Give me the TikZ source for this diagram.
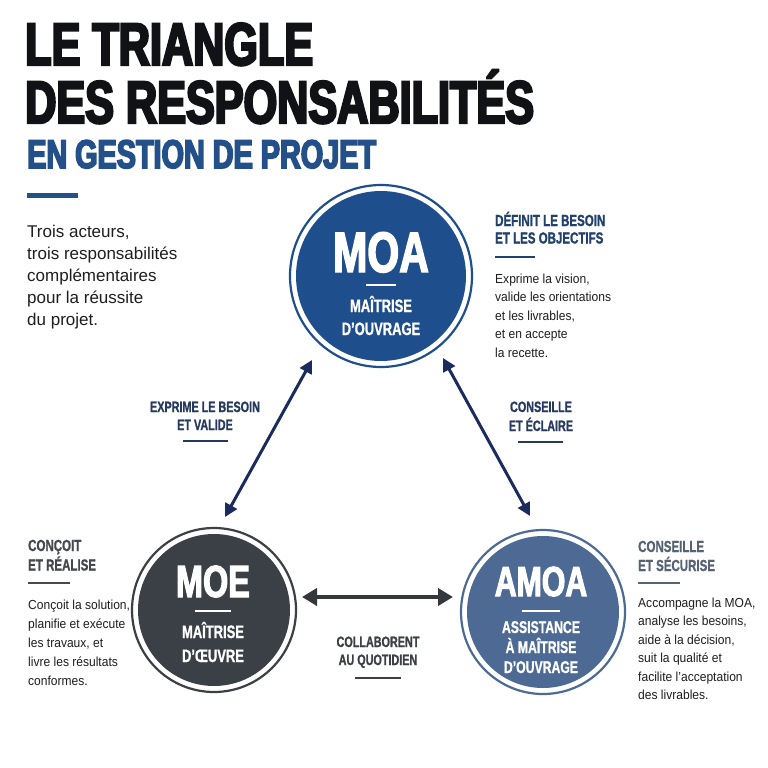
\documentclass[tikz,border=0pt]{standalone}
\usepackage{fontspec}
\setmainfont{Liberation Sans}
\newfontfamily\titlefont[FakeStretch=0.72,FakeBold=4]{Liberation Sans Bold}
\newfontfamily\namefont[FakeStretch=0.72,FakeBold=2.5]{Liberation Sans Bold}
\newfontfamily\condfont[FakeStretch=0.72,FakeBold=1.0]{Liberation Sans Bold}
\newfontfamily\bodyfont[FakeStretch=0.92]{Liberation Sans}
\usetikzlibrary{arrows.meta,calc}
\definecolor{titleblack}{HTML}{111216}
\definecolor{titleblue}{HTML}{24508A}
\definecolor{moablue}{HTML}{1F4E8C}
\definecolor{moegray}{HTML}{3B3F46}
\definecolor{amoablue}{HTML}{4C6A93}
\definecolor{navy}{HTML}{26395F}
\definecolor{defblue}{HTML}{21406E}
\definecolor{arrnavy}{HTML}{1A2B5C}
\definecolor{headgray}{HTML}{45484D}
\definecolor{headslate}{HTML}{566374}
\definecolor{colgray}{HTML}{3C3F44}
\definecolor{harrgray}{HTML}{34373C}
\definecolor{bodytext}{HTML}{1E1E1E}
\newcommand\txtblock[6]{%
  \foreach \tline [count=\i from 0] in {#6}{%
    \node[#2] (#1-\i) at (#3,{#4+\i*#5}) {\tline};
  }%
}
\tikzset{
  ttl/.style={anchor=base west, inner sep=0, text=titleblack, font=\titlefont\fontsize{60}{60}\selectfont},
  subttl/.style={anchor=base west, inner sep=0, text=titleblue, font=\titlefont\fontsize{40}{40}\selectfont},
  intro/.style={anchor=base west, inner sep=0, text=bodytext, font=\fontsize{17}{20}\selectfont},
  body/.style={anchor=base west, inner sep=0, text=bodytext, font=\bodyfont\fontsize{13.1}{15}\selectfont},
  head/.style={anchor=base west, inner sep=0, font=\condfont\fontsize{16}{18}\selectfont},
  midhead/.style={anchor=base, inner sep=0, font=\condfont\fontsize{15}{17}\selectfont},
  disc/.style={circle, inner sep=0, outer sep=0, minimum size=#1},
  bigname/.style={anchor=base, inner sep=0, text=white, font=\namefont\fontsize{#1}{#1}\selectfont},
  smallname/.style={anchor=base, inner sep=0, text=white, font=\condfont\fontsize{#1}{#1}\selectfont},
  bar/.style={line width=2pt},
  darr/.style={draw=arrnavy, line width=3pt, {Triangle[length=13pt,width=13pt]}-{Triangle[length=13pt,width=13pt]}},
  harr/.style={draw=harrgray, line width=4.5pt, {Triangle[length=15pt,width=17pt]}-{Triangle[length=15pt,width=17pt]}},
}
\begin{document}
\begin{tikzpicture}[x=1pt,y=-1pt]
\useasboundingbox[fill=white] (0,0) rectangle (768,768);

% Title
\node[ttl] (t1) at (25,65) {LE TRIANGLE};
\node[ttl] (t2) at (25,123) {DES RESPONSABILITÉS};
\node[subttl] (t3) at (27,168) {EN GESTION DE PROJET};
\draw[titleblue, line width=5pt] (27,195) -- (78,195);

% Intro
\txtblock{intro}{intro}{27}{237.5}{22}{{Trois acteurs,}, trois responsabilités, complémentaires, pour la réussite, du projet.}

% Circles
\node[disc=170pt, fill=moablue] (moa) at (381,276) {};
\draw[moablue, line width=2.2pt] (moa.center) circle[radius=91pt];
\node[disc=152pt, fill=moegray] (moe) at (214,610) {};
\draw[moegray, line width=2.2pt] (moe.center) circle[radius=82pt];
\node[disc=152pt, fill=amoablue] (amoa) at (543,612) {};
\draw[amoablue, line width=2.2pt] (amoa.center) circle[radius=82pt];

% MOA text
\node[bigname=57] (moa-n) at (381,272) {MOA};
\draw[white, bar] (366,285) -- (396,285);
\node[smallname=18] (moa-s1) at (381,312) {MAÎTRISE};
\node[smallname=18] (moa-s2) at (381,335) {D’OUVRAGE};

% MOE text
\node[bigname=45] (moe-n) at (213,597) {MOE};
\draw[white, bar] (195,611) -- (231,611);
\node[smallname=18] (moe-s1) at (213,638) {MAÎTRISE};
\node[smallname=18] (moe-s2) at (213,662) {D’ŒUVRE};

% AMOA text
\node[bigname=42] (amoa-n) at (541,596) {AMOA};
\draw[white, bar] (522,611) -- (560,611);
\node[smallname=17] (amoa-s1) at (541,633) {ASSISTANCE};
\node[smallname=17] (amoa-s2) at (541,653) {À MAÎTRISE};
\node[smallname=17] (amoa-s3) at (541,673) {D’OUVRAGE};

% Arrows
\coordinate (l1) at ($(moa.center)+(-69,84)$);
\coordinate (l2) at ($(moe.center)+(11,-93)$);
\coordinate (r1) at ($(moa.center)+(62,82)$);
\coordinate (r2) at ($(amoa.center)+(-13,-96)$);
\coordinate (h1) at ($(moe.center)+(88,-13)$);
\coordinate (h2) at ($(amoa.center)+(-90,-15)$);
\draw[darr] (l1) -- (l2);
\draw[darr] (r1) -- (r2);
\draw[harr] (h1) -- (h2);

% Mid labels
\txtblock{lab1}{midhead, text=navy}{205}{412}{18}{EXPRIME LE BESOIN, ET VALIDE}
\draw[navy, bar] (183,441) -- (228,441);
\txtblock{lab2}{midhead, text=navy}{541}{412}{19}{CONSEILLE, ET ÉCLAIRE}
\draw[navy, bar] (518,442) -- (563,442);
\txtblock{lab3}{midhead, text=colgray}{378}{647}{18}{COLLABORENT, AU QUOTIDIEN}
\draw[colgray, bar] (355,678) -- (401,678);

% MOA side block
\txtblock{moah}{head, text=defblue}{495}{226}{17.5}{DÉFINIT LE BESOIN, ET LES OBJECTIFS}
\draw[defblue, bar] (495,257) -- (535,257);
\txtblock{moab}{body}{495}{283}{18.6}{{Exprime la vision,}, valide les orientations, {et les livrables,}, et en accepte, la recette.}

% MOE side block
\txtblock{moeh}{head, text=headgray}{28}{551}{19.5}{CONÇOIT, ET RÉALISE}
\draw[headgray, bar] (28,583) -- (70,583);
\txtblock{moeb}{body}{28}{609}{19.2}{{Conçoit la solution,}, planifie et exécute, {les travaux, et}, livre les résultats, conformes.}

% AMOA side block
\txtblock{amoah}{head, text=headslate}{638}{552}{19}{CONSEILLE, ET SÉCURISE}
\draw[headslate, bar] (638,583) -- (680,583);
\txtblock{amoab}{body}{638}{607}{18.5}{{Accompagne la MOA,}, {analyse les besoins,}, {aide à la décision,}, suit la qualité et, facilite l’acceptation, des livrables.}
\end{tikzpicture}
\end{document}
